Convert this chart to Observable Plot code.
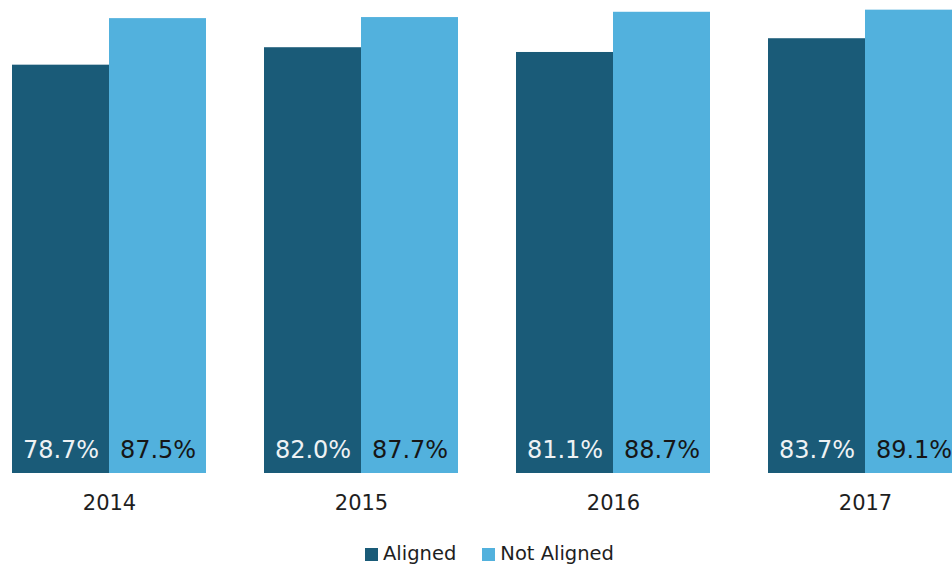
<!DOCTYPE html>
<html><head><meta charset="utf-8">
<script src="https://cdn.jsdelivr.net/npm/d3@7"></script>
<script src="https://cdn.jsdelivr.net/npm/@observablehq/plot@0.6"></script>
<style>
body{margin:0;background:#fff;overflow:hidden;font-family:"DejaVu Sans",sans-serif;}
#chart svg{display:block;overflow:hidden;}
#legend{display:flex;align-items:flex-end;height:24px;margin-top:22px;padding-left:365px;font-size:19.5px;color:#1e1e1e;line-height:24px;}
#legend .item{display:flex;align-items:center;margin-right:26px;}
#legend .sw{width:13px;height:13px;margin-right:5px;}
</style></head><body><div id="chart"></div><div id="legend"></div>
<script>
const years = ["2014","2015","2016","2017"];
const series = ["Aligned","Not Aligned"];
const aligned = [78.7, 82.0, 81.1, 83.7];
const notAligned = [87.5, 87.7, 88.7, 89.1];
const colors = ["#1a5b78","#52b1dd"];
const labelColors = ["#eef2f4","#161616"];

const data = years.flatMap((y,i)=>[
  {year:y, series:series[0], value:aligned[i]},
  {year:y, series:series[1], value:notAligned[i]}
]);

const plot = Plot.plot({
  width: 952, height: 520,
  marginTop: 0, marginBottom: 47, marginLeft: 12, marginRight: -11,
  style: {fontSize: "21px", fontFamily: "'DejaVu Sans', sans-serif", color: "#1e1e1e", background: "#fff"},
  facet: {data, x: "year"},
  fx: {domain: years, paddingInner: 0.23, paddingOuter: 0, axis: "bottom", tickSize: 0, tickPadding: 22, label: null},
  x: {domain: series, padding: 0, axis: null},
  y: {domain: [0, 100], range: [481, -48], axis: null},
  color: {domain: series, range: colors},
  marks: [
    Plot.barY(data, {x: "series", y: "value", fill: "series", clip: true}),
    ...series.map((s, k) => Plot.text(data, {
      filter: d => d.series === s,
      x: "series", text: d => d.value.toFixed(1) + "%",
      frameAnchor: "bottom", dy: -16, fill: labelColors[k], fontSize: 24
    }))
  ]
});
document.getElementById("chart").appendChild(plot);

const lg = document.getElementById("legend");
series.forEach((s, k) => {
  const it = document.createElement("div"); it.className = "item";
  const sw = document.createElement("div"); sw.className = "sw"; sw.style.background = colors[k];
  const t = document.createElement("span"); t.textContent = s;
  it.appendChild(sw); it.appendChild(t); lg.appendChild(it);
});
</script></body></html>
